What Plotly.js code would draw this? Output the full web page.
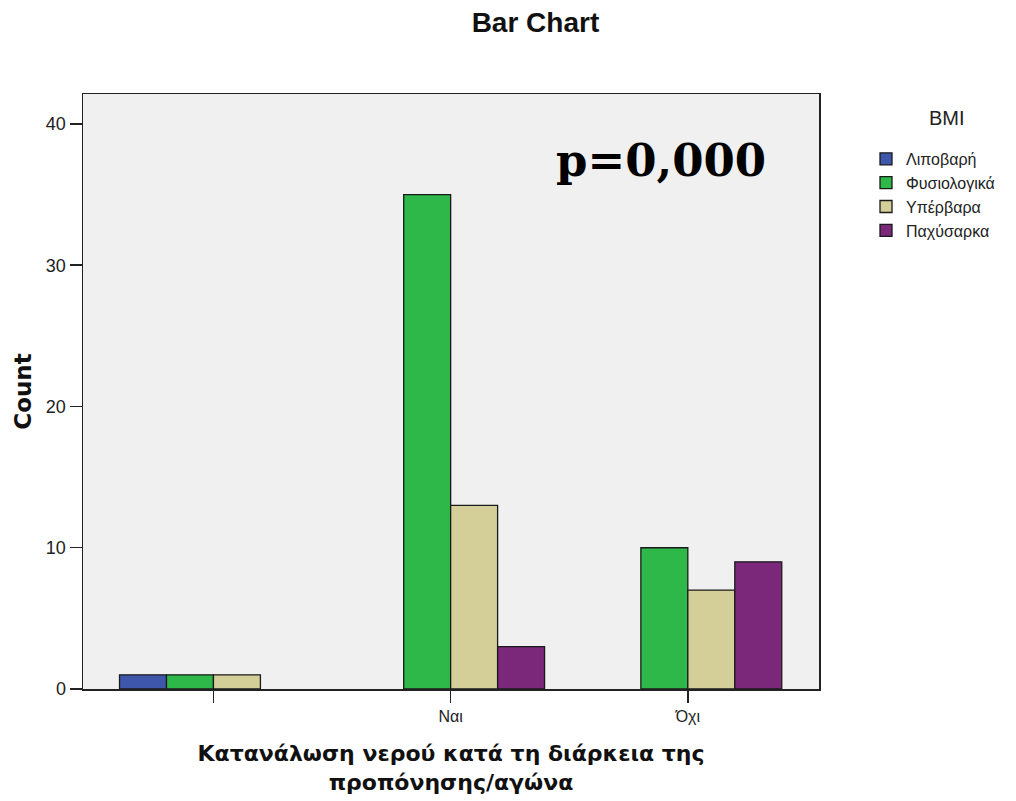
<!DOCTYPE html>
<html>
<head>
<meta charset="utf-8">
<script src="https://cdn.plot.ly/plotly-3.0.1.min.js"></script>
<style>html,body{margin:0;padding:0;background:#fff;}#chart{width:1016px;height:801px;}</style>
</head>
<body>
<div id="chart"></div>
<script>
// Categories of the x axis (first category has an empty label in the source)
var categories = ['', 'Ναι', 'Όχι'];
// BMI groups
var seriesNames = ['Λιποβαρή', 'Φυσιολογικά', 'Υπέρβαρα', 'Παχύσαρκα'];
// Counts per BMI group, one value per category (null = no bar drawn)
var lipovari = [1, null, null];
var fysiologika = [1, 35, 10];
var yperbara = [1, 13, 7];
var paxysarka = [null, 3, 9];
var yTicks = [0, 10, 20, 30, 40];

var seriesValues = [lipovari, fysiologika, yperbara, paxysarka];
var colors = ['#3e57ab', '#2eb84a', '#d4cf98', '#7b287a'];
var xIdx = categories.map(function (c, i) { return i; });

var traces = seriesNames.map(function (name, k) {
  return {
    type: 'bar',
    name: name,
    x: xIdx,
    y: seriesValues[k],
    marker: { color: colors[k], line: { color: '#1a1a1a', width: 1.3 } },
    hoverinfo: 'name+y'
  };
});

var font = 'Liberation Sans, Arial, sans-serif';
var wide = 'DejaVu Sans, Verdana, sans-serif';
var layout = {
  width: 1016,
  height: 801,
  paper_bgcolor: '#ffffff',
  plot_bgcolor: '#f0f0f0',
  margin: { l: 83, r: 197, t: 94, b: 112, autoexpand: false },
  barmode: 'group',
  bargap: 0.208,
  bargroupgap: 0,
  font: { family: font, size: 16, color: '#222' },
  title: {
    text: '<b>Bar Chart</b>',
    font: { family: font, size: 28, color: '#111' },
    x: 0.527, xref: 'container', xanchor: 'center',
    y: 0.972, yref: 'container', yanchor: 'middle'
  },
  xaxis: {
    range: [-0.55, 2.553],
    tickvals: xIdx,
    ticktext: categories,
    showline: true, linecolor: '#222', linewidth: 1.5, mirror: true,
    ticks: 'outside', ticklen: 12, tickcolor: '#222', tickwidth: 1.5,
    showgrid: false, zeroline: false,
    tickfont: { family: font, size: 16, color: '#222' },
    title: {
      text: '<b>Κατανάλωση νερού κατά τη διάρκεια της<br>προπόνησης/αγώνα</b>',
      font: { family: wide, size: 22, color: '#111' },
      standoff: 22
    }
  },
  yaxis: {
    range: [0, 42.12],
    tickvals: yTicks,
    showline: true, linecolor: '#222', linewidth: 1.5, mirror: true,
    ticks: 'outside', ticklen: 12, tickcolor: '#222', tickwidth: 1.5,
    showgrid: false, zeroline: false,
    tickfont: { family: font, size: 18, color: '#222' },
    title: {
      text: '<b>Count</b>',
      font: { family: wide, size: 23, color: '#111' },
      standoff: 8
    }
  },
  legend: {
    xref: 'container', yref: 'container',
    x: 866 / 1016, xanchor: 'left',
    y: 1 - 142 / 801, yanchor: 'top',
    bgcolor: 'rgba(0,0,0,0)',
    font: { family: font, size: 16, color: '#222' },
    traceorder: 'normal',
    itemwidth: 30
  },
  annotations: [{
    text: '<b>p=0,000</b>',
    xref: 'paper', yref: 'paper',
    x: (661 - 83) / 736, y: (689 - 160) / 595,
    xanchor: 'center', yanchor: 'middle',
    showarrow: false,
    font: { family: 'DejaVu Serif, serif', size: 45, color: '#000' }
  }, {
    text: 'BMI',
    xref: 'paper', yref: 'paper',
    x: (947 - 83) / 736, y: (689 - 118) / 595,
    xanchor: 'center', yanchor: 'middle',
    showarrow: false,
    font: { family: font, size: 20, color: '#222' }
  }]
};

Plotly.newPlot('chart', traces, layout, { displayModeBar: false, staticPlot: true });
</script>
</body>
</html>
